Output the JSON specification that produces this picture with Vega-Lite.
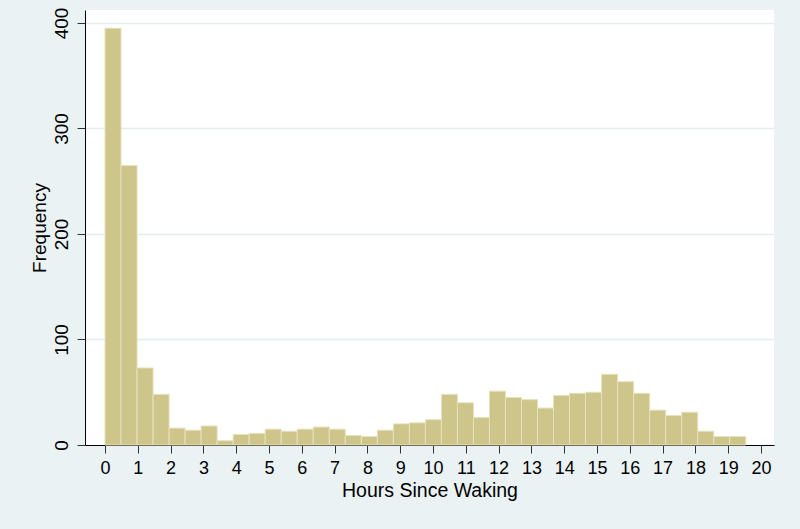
{
  "$schema": "https://vega.github.io/schema/vega-lite/v6.json",
  "width": 689,
  "height": 435,
  "autosize": {"type": "none"},
  "padding": {"left": 85, "top": 10, "right": 26, "bottom": 84},
  "background": "#EAF2F3",
  "config": {
    "view": {"fill": "white", "stroke": null},
    "font": "Liberation Sans"
  },
  "data": {
    "values": [
      {"x0": 0, "x1": 0.4884, "count": 395},
      {"x0": 0.4884, "x1": 0.9768, "count": 265},
      {"x0": 0.9768, "x1": 1.4651, "count": 73},
      {"x0": 1.4651, "x1": 1.9535, "count": 48},
      {"x0": 1.9535, "x1": 2.4419, "count": 16},
      {"x0": 2.4419, "x1": 2.9303, "count": 14},
      {"x0": 2.9303, "x1": 3.4187, "count": 18},
      {"x0": 3.4187, "x1": 3.907, "count": 4},
      {"x0": 3.907, "x1": 4.3954, "count": 10},
      {"x0": 4.3954, "x1": 4.8838, "count": 11},
      {"x0": 4.8838, "x1": 5.3722, "count": 15},
      {"x0": 5.3722, "x1": 5.8606, "count": 13},
      {"x0": 5.8606, "x1": 6.3489, "count": 15},
      {"x0": 6.3489, "x1": 6.8373, "count": 17},
      {"x0": 6.8373, "x1": 7.3257, "count": 15},
      {"x0": 7.3257, "x1": 7.8141, "count": 9},
      {"x0": 7.8141, "x1": 8.3025, "count": 8},
      {"x0": 8.3025, "x1": 8.7908, "count": 14},
      {"x0": 8.7908, "x1": 9.2792, "count": 20},
      {"x0": 9.2792, "x1": 9.7676, "count": 21},
      {"x0": 9.7676, "x1": 10.256, "count": 24},
      {"x0": 10.256, "x1": 10.7444, "count": 48},
      {"x0": 10.7444, "x1": 11.2327, "count": 40},
      {"x0": 11.2327, "x1": 11.7211, "count": 26},
      {"x0": 11.7211, "x1": 12.2095, "count": 51},
      {"x0": 12.2095, "x1": 12.6979, "count": 45},
      {"x0": 12.6979, "x1": 13.1863, "count": 43},
      {"x0": 13.1863, "x1": 13.6746, "count": 35},
      {"x0": 13.6746, "x1": 14.163, "count": 47},
      {"x0": 14.163, "x1": 14.6514, "count": 49},
      {"x0": 14.6514, "x1": 15.1398, "count": 50},
      {"x0": 15.1398, "x1": 15.6282, "count": 67},
      {"x0": 15.6282, "x1": 16.1165, "count": 60},
      {"x0": 16.1165, "x1": 16.6049, "count": 49},
      {"x0": 16.6049, "x1": 17.0933, "count": 33},
      {"x0": 17.0933, "x1": 17.5817, "count": 28},
      {"x0": 17.5817, "x1": 18.0701, "count": 31},
      {"x0": 18.0701, "x1": 18.5584, "count": 13},
      {"x0": 18.5584, "x1": 19.0468, "count": 8},
      {"x0": 19.0468, "x1": 19.5352, "count": 8}
    ]
  },
  "mark": {"type": "rect", "fill": "#CDC589", "stroke": "#E6E1BE", "strokeWidth": 1},
  "encoding": {
    "x": {
      "field": "x0",
      "type": "quantitative",
      "scale": {"domain": [-0.61, 20.396], "nice": false, "zero": false},
      "axis": {
        "title": "Hours Since Waking",
        "values": [0,1,2,3,4,5,6,7,8,9,10,11,12,13,14,15,16,17,18,19,20],
        "grid": false,
        "domainColor": "#000000",
        "domainWidth": 1,
        "tickColor": "#333333",
        "tickSize": 8,
        "tickWidth": 1,
        "labelFontSize": 18,
        "labelColor": "#000000",
        "labelBaseline": "alphabetic",
        "labelPadding": 20,
        "labelFlush": false,
        "labelOverlap": false,
        "titleFontSize": 19.5,
        "titleFontWeight": "normal",
        "titleColor": "#000000",
        "titleBaseline": "alphabetic",
        "titleY": 51
      }
    },
    "x2": {"field": "x1"},
    "y": {
      "field": "count",
      "type": "quantitative",
      "scale": {"domain": [0, 412.3], "nice": false},
      "axis": {
        "title": "Frequency",
        "values": [0, 100, 200, 300, 400],
        "grid": true,
        "gridColor": "#E4EDF0",
        "gridWidth": 1.5,
        "domainColor": "#000000",
        "domainWidth": 1,
        "tickColor": "#333333",
        "tickSize": 8,
        "tickWidth": 1,
        "labelFontSize": 19,
        "labelColor": "#000000",
        "labelAngle": -90,
        "labelAlign": "center",
        "labelBaseline": "alphabetic",
        "labelPadding": 10,
        "labelFlush": false,
        "titleFontSize": 19,
        "titleFontWeight": "normal",
        "titleColor": "#000000",
        "titleAngle": -90,
        "titleAlign": "center",
        "titleBaseline": "alphabetic",
        "titleX": -40,
        "titleY": 217.5
      }
    },
    "y2": {"datum": 0}
  }
}
